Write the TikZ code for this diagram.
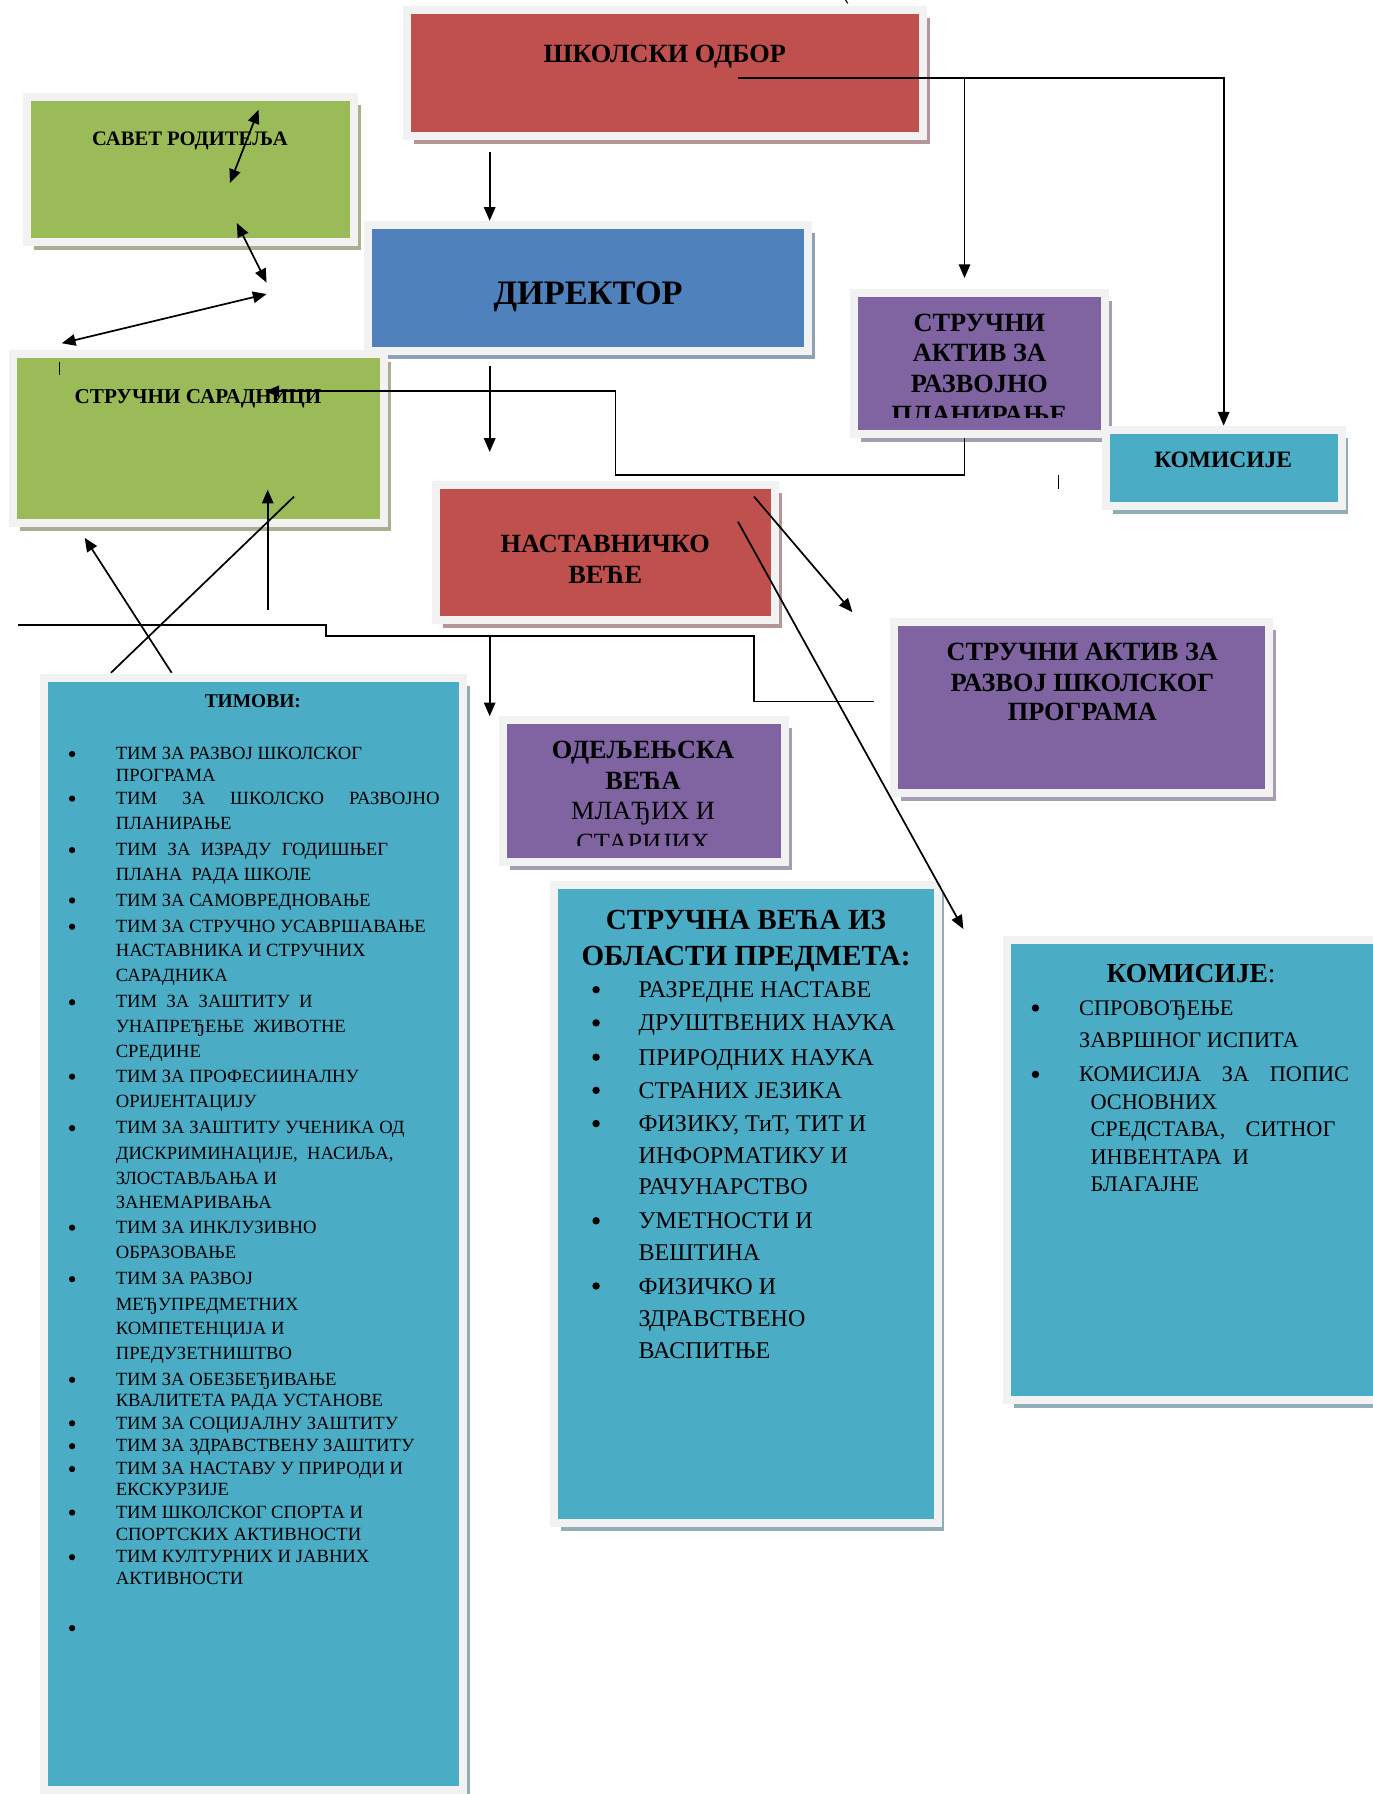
\documentclass[tikz,border=0pt]{standalone}
\usepackage{fontspec}
\setmainfont{Liberation Serif}
\usetikzlibrary{arrows.meta,shadows}

\definecolor{boardred}{HTML}{C0504D}
\definecolor{headblue}{HTML}{4F81BD}
\definecolor{leafgreen}{HTML}{9BBB59}
\definecolor{actpurple}{HTML}{8064A2}
\definecolor{teamteal}{HTML}{4BACC6}
\definecolor{framegray}{HTML}{F2F2F2}
\definecolor{redshade}{HTML}{B59698}
\definecolor{blueshade}{HTML}{8FA1B5}
\definecolor{greenshade}{HTML}{A7B192}
\definecolor{purpleshade}{HTML}{A69DB2}
\definecolor{tealshade}{HTML}{91ADB7}

\begin{document}
\begin{tikzpicture}[x=1pt, y=-1pt]
  \tikzstyle{box}=[draw=framegray, line width=7pt, anchor=north west, inner sep=0pt]
  \tikzstyle{redbox}=[box, fill=boardred, drop shadow={shadow xshift=6pt, shadow yshift=-7pt, fill=redshade, opacity=1}]
  \tikzstyle{bluebox}=[box, fill=headblue, drop shadow={shadow xshift=6pt, shadow yshift=-7pt, fill=blueshade, opacity=1}]
  \tikzstyle{greenbox}=[box, fill=leafgreen, drop shadow={shadow xshift=6pt, shadow yshift=-7pt, fill=greenshade, opacity=1}]
  \tikzstyle{purplebox}=[box, fill=actpurple, drop shadow={shadow xshift=6pt, shadow yshift=-7pt, fill=purpleshade, opacity=1}]
  \tikzstyle{tealbox}=[box, fill=teamteal, drop shadow={shadow xshift=6pt, shadow yshift=-7pt, fill=tealshade, opacity=1}]
  \tikzstyle{head}=[anchor=base, inner sep=0pt, font=\bfseries\fontsize{23}{27}\selectfont]
  \tikzstyle{plain}=[anchor=base, inner sep=0pt, font=\fontsize{23}{27}\selectfont]
  \tikzstyle{team}=[anchor=base west, inner sep=0pt, font=\fontsize{16.3}{19}\selectfont]
  \tikzstyle{subject}=[anchor=base west, inner sep=0pt, font=\fontsize{21}{25}\selectfont]
  \tikzstyle{board}=[anchor=base west, inner sep=0pt, font=\fontsize{19.5}{23}\selectfont]
  \tikzstyle{dot}=[circle, fill=black, inner sep=0pt, minimum size=5.5pt]
  \tikzstyle{link}=[line width=1.5pt]
  \tikzstyle{arrow}=[link, -{Triangle[length=12pt, width=10pt]}]
  \tikzstyle{twoway}=[link, {Triangle[length=12pt, width=10pt]}-{Triangle[length=12pt, width=10pt]}]

  \fill[white] (0,0) rectangle (1200,1568);
  \useasboundingbox (0,0) rectangle (1200,1568);

  % boxes
  \node[redbox, minimum width=451pt, minimum height=110pt] (board) at (352,5) {};
  \node[greenbox, minimum width=286pt, minimum height=127pt] (parents) at (20,81) {};
  \node[bluebox, minimum width=385pt, minimum height=110pt] (director) at (318,193) {};
  \node[greenbox, minimum width=324pt, minimum height=148pt] (sar) at (8,306) {};
  \node[purplebox, minimum width=219pt, minimum height=123pt] (aktivA) at (743,253) {};
  \node[tealbox, minimum width=206pt, minimum height=67pt] (kom) at (963,372) {};
  \node[redbox, minimum width=296pt, minimum height=118pt] (nast) at (378,420) {};
  \node[purplebox, minimum width=328pt, minimum height=150pt] (aktivB) at (778,540) {};
  \node[purplebox, minimum width=247pt, minimum height=124pt] (odelj) at (436,626) {};
  \node[tealbox, minimum width=366pt, minimum height=972pt] (timovi) at (35,589) {};
  \node[tealbox, minimum width=335pt, minimum height=558pt] (vece) at (481,770) {};
  \node[tealbox, minimum width=340pt, minimum height=402pt] (komisije) at (877,818) {};

  % box titles
  \node[head] (boardtext) at (581,55) {ШКОЛСКИ ОДБОР};
  \node[head, font=\bfseries\fontsize{18}{21}\selectfont] (parentstext) at (166,127) {САВЕТ РОДИТЕЉА};
  \node[head, font=\bfseries\fontsize{30}{34}\selectfont] (directortext) at (514,266) {ДИРЕКТОР};
  \node[head, font=\bfseries\fontsize{18.5}{21}\selectfont] (sartext) at (173,353) {СТРУЧНИ САРАДНИЦИ};
  \begin{scope}
    \clip (750,255) rectangle (962,365);
    \foreach \y/\t [count=\i] in {290/СТРУЧНИ, 316/АКТИВ ЗА, 343/РАЗВОЈНО, 370/ПЛАНИРАЊЕ}
      \node[head] (aktivAtext\i) at (856,\y) {\t};
  \end{scope}
  \node[head, font=\bfseries\fontsize{20.5}{24}\selectfont] (komtext) at (1069,409) {КОМИСИЈЕ};
  \node[head] (nasttext1) at (529,483) {НАСТАВНИЧКО};
  \node[head] (nasttext2) at (529,510) {ВЕЋЕ};
  \node[head] (aktivBtext1) at (946,577) {СТРУЧНИ АКТИВ ЗА};
  \node[head] (aktivBtext2) at (946,604) {РАЗВОЈ ШКОЛСКОГ};
  \node[head] (aktivBtext3) at (946,630) {ПРОГРАМА};
  \begin{scope}
    \clip (443,633) rectangle (682,739);
    \node[head] (odeljtext1) at (562,663) {ОДЕЉЕЊСКА};
    \node[head] (odeljtext2) at (562,690) {ВЕЋА};
    \node[plain] (odeljtext3) at (562,716) {МЛАЂИХ И};
    \node[plain] (odeljtext4) at (562,744) {СТАРИЈИХ};
  \end{scope}

  % teams
  \node[head, font=\bfseries\fontsize{17}{20}\selectfont] (timovitext) at (221,618) {ТИМОВИ:};
  \foreach \y in {659,698,743,787,810,876,941,986,1073,1118,1206,1244,1264,1284,1322,1361,1423}
    \node[dot] (teamdot\y) at (63,\y) {};
  \foreach \y/\t in {659/{ТИМ ЗА РАЗВОЈ ШКОЛСКОГ}, 678/ПРОГРАМА,
      698/{\makebox[283pt][s]{ТИМ ЗА ШКОЛСКО РАЗВОЈНО}}, 720/ПЛАНИРАЊЕ,
      743/{\makebox[238pt][s]{ТИМ ЗА ИЗРАДУ ГОДИШЊЕГ}}, 765/{ПЛАНА\ \ РАДА ШКОЛЕ},
      787/{ТИМ ЗА САМОВРЕДНОВАЊЕ},
      810/{ТИМ ЗА СТРУЧНО УСАВРШАВАЊЕ}, 831/{НАСТАВНИКА И СТРУЧНИХ}, 853/САРАДНИКА,
      876/{\makebox[172pt][s]{ТИМ ЗА ЗАШТИТУ И}}, 897/{УНАПРЕЂЕЊЕ\ \ ЖИВОТНЕ}, 919/СРЕДИНЕ,
      941/{ТИМ ЗА ПРОФЕСИИНАЛНУ}, 963/ОРИЈЕНТАЦИЈУ,
      986/{ТИМ ЗА ЗАШТИТУ УЧЕНИКА ОД}, 1008/{ДИСКРИМИНАЦИЈЕ,\ \ НАСИЉА,},
      1030/{ЗЛОСТАВЉАЊА И}, 1051/ЗАНЕМАРИВАЊА,
      1073/{ТИМ ЗА ИНКЛУЗИВНО}, 1095/ОБРАЗОВАЊЕ,
      1118/{ТИМ ЗА РАЗВОЈ}, 1140/МЕЂУПРЕДМЕТНИХ, 1161/{КОМПЕТЕНЦИЈА И}, 1183/ПРЕДУЗЕТНИШТВО,
      1206/{ТИМ ЗА ОБЕЗБЕЂИВАЊЕ}, 1224/{КВАЛИТЕТА РАДА УСТАНОВЕ},
      1244/{ТИМ ЗА СОЦИЈАЛНУ ЗАШТИТУ}, 1264/{ТИМ ЗА ЗДРАВСТВЕНУ ЗАШТИТУ},
      1284/{ТИМ ЗА НАСТАВУ У ПРИРОДИ И}, 1302/ЕКСКУРЗИЈЕ,
      1322/{ТИМ ШКОЛСКОГ СПОРТА И}, 1341/{СПОРТСКИХ АКТИВНОСТИ},
      1361/{ТИМ КУЛТУРНИХ И ЈАВНИХ}, 1380/АКТИВНОСТИ}
    \node[team] (team\y) at (101,\y+5) {\t};

  % subject councils
  \node[head, font=\bfseries\fontsize{25.5}{30}\selectfont] (vecetext1) at (652,812) {СТРУЧНА ВЕЋА ИЗ};
  \node[head, font=\bfseries\fontsize{25.5}{30}\selectfont] (vecetext2) at (652,844) {ОБЛАСТИ ПРЕДМЕТА:};
  \foreach \y in {865,894,924,953,982,1067,1124}
    \node[dot, minimum size=6.5pt] (subjdot\y) at (521,\y) {};
  \foreach \y/\t in {865/{РАЗРЕДНЕ НАСТАВЕ}, 894/{ДРУШТВЕНИХ НАУКА}, 924/{ПРИРОДНИХ НАУКА},
      953/{СТРАНИХ ЈЕЗИКА}, 982/{ФИЗИКУ, ТиТ, ТИТ И}, 1010/{ИНФОРМАТИКУ И}, 1037/РАЧУНАРСТВО,
      1067/{УМЕТНОСТИ И}, 1095/ВЕШТИНА, 1124/{ФИЗИЧКО И}, 1152/ЗДРАВСТВЕНО, 1180/ВАСПИТЊЕ}
    \node[subject] (subj\y) at (558,\y+7) {\t};

  % commissions
  \node[head, font=\bfseries\fontsize{24}{28}\selectfont] (komisijetext) at (1041,859) {КОМИСИЈЕ{\mdseries:}};
  \foreach \y in {881,939}
    \node[dot, minimum size=6.5pt] (komdot\y) at (905,\y) {};
  \node[board] (kom881) at (943,887.5) {СПРОВОЂЕЊЕ};
  \node[board] (kom909) at (943,915.5) {ЗАВРШНОГ ИСПИТА};
  \node[board] (kom939) at (943,945.5) {\makebox[236pt][s]{КОМИСИЈА ЗА ПОПИС}};
  \node[board] (kom963) at (953,969.5) {ОСНОВНИХ};
  \node[board] (kom987) at (953,993.5) {\makebox[214pt][s]{СРЕДСТАВА, СИТНОГ}};
  \node[board] (kom1011) at (953,1017.5) {ИНВЕНТАРА\ \ И};
  \node[board] (kom1035) at (953,1041.5) {БЛАГАЈНЕ};

  % connector points
  \coordinate (boardline) at (645,68);
  \coordinate (boardfork) at (843,68);
  \coordinate (aktivtop) at (843,243);
  \coordinate (boardarrow) at (428,133);
  \coordinate (dirstart) at (428,320);
  \coordinate (nastend) at (428,395);
  \coordinate (bend) at (538,415);
  \coordinate (sarend) at (232,342);
  \coordinate (p1) at (226,96);
  \coordinate (p2) at (201,160);
  \coordinate (p3) at (207,195);
  \coordinate (p4) at (233,247);
  \coordinate (p5) at (233,257);
  \coordinate (p6) at (54,300);
  \coordinate (q1) at (234,533);
  \coordinate (q2) at (234,428);
  \coordinate (q3) at (257,434);
  \coordinate (q4) at (97,588);
  \coordinate (q5) at (150,588);
  \coordinate (q6) at (74,470);
  \coordinate (r1) at (16,546);
  \coordinate (rstep) at (285,556);
  \coordinate (rmid) at (659,613);
  \coordinate (r2) at (764,613);
  \coordinate (s1) at (428,556);
  \coordinate (t1) at (659,434);
  \coordinate (t2) at (745,535);
  \coordinate (t3) at (645,456);
  \coordinate (t4) at (842,812);

  % connectors
  \draw[arrow] (boardline) -| (kom.north);
  \draw[arrow] (boardfork) -- (aktivtop);
  \draw[arrow] (boardarrow) -- (boardarrow |- director.north);
  \draw[arrow] (dirstart) -- (nastend);
  \draw[arrow] (aktivA.south -| boardfork) |- (bend) |- (sarend);
  \draw[twoway] (p1) -- (p2);
  \draw[twoway] (p3) -- (p4);
  \draw[twoway] (p5) -- (p6);
  \draw[arrow] (q1) -- (q2);
  \draw[link] (q3) -- (q4);
  \draw[arrow] (q5) -- (q6);
  \draw[link] (r1) -| (rstep) -| (rmid) -- (r2);
  \draw[arrow] (s1) -- (s1 |- odelj.north);
  \draw[arrow] (t1) -- (t2);
  \draw[arrow] (t3) -- (t4);

  % stray marks
  \draw[line width=1pt] (52,316) -- (52,328);
  \draw[line width=1pt] (925,415) -- (925,427);
  \draw[line width=1pt] (739,0) -- (741,3);
\end{tikzpicture}
\end{document}
